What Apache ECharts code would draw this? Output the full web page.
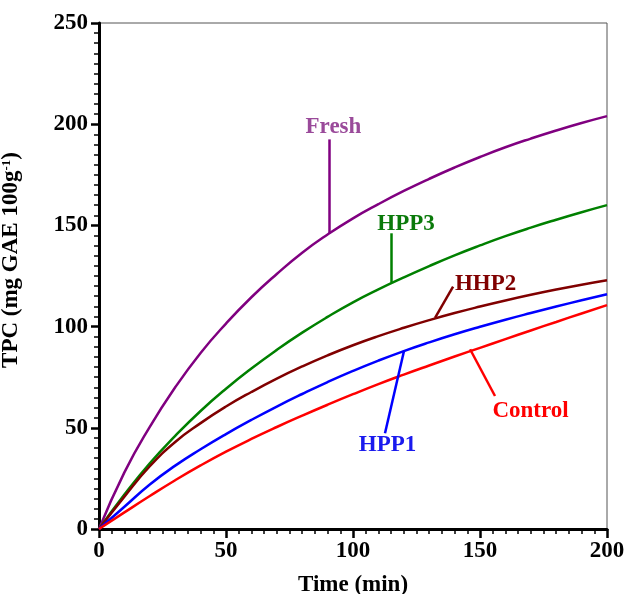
<!DOCTYPE html>
<html><head><meta charset="utf-8">
<script src="https://cdn.jsdelivr.net/npm/echarts@6/dist/echarts.min.js"></script>
<style>html,body{margin:0;padding:0;background:#fff}#c{width:627px;height:594px}</style>
</head><body><div id="c"></div>
<script>
// ---- data ----
const times   = [0,10,20,30,40,50,60,70,80,90,100,110,120,130,140,150,160,170,180,190,200];
const fresh   = [0,28,50.5,70,87,101.5,114.5,126,136.5,145.5,153.5,160.5,167,173,178.6,183.8,188.6,192.9,196.9,200.6,204];
const hpp3    = [0,17,32.5,46,58.3,69.3,79.3,88.5,97,104.8,112,118.4,124.3,129.9,135.2,140.1,144.7,148.9,152.8,156.5,160];
const hhp2    = [0,16,31,43,52.3,60.5,67.7,74.3,80.3,85.8,90.8,95.3,99.4,103.2,106.7,109.9,112.9,115.7,118.3,120.7,122.9];
const hpp1    = [0,11,22,31.3,39.4,46.9,53.9,60.5,66.7,72.6,78.1,83.2,87.9,92.2,96.2,99.9,103.4,106.7,109.9,113,116];
const control = [0,8.2,16.3,24.1,31.4,38.2,44.5,50.4,56,61.4,66.6,71.6,76.3,80.8,85.2,89.5,93.8,98.1,102.3,106.5,110.6];

const seriesNames  = ['Fresh','HPP3','HHP2','HPP1','Control'];
const seriesValues = [fresh, hpp3, hhp2, hpp1, control];
const xTicks = [0,50,100,150,200];
const yTicks = [0,50,100,150,200,250];

// annotation anchors in data units (time, TPC)
const labelAt    = [[92.3,198.8],[120.9,150.5],[152.2,121],[113.6,41.4],[169.9,58.3]];
const leaderFrom = [[90.6,146.1],[115,121.7],[132.3,104.3],[120.1,88.1],[146.1,88.8]];
const leaderTo   = [[90.6,192.5],[115,146.1],[139.4,119.7],[112.6,47.3],[155.9,65.7]];

// ---- styles ----
const lineColors  = ['#800080','#008000','#800000','#0000ff','#ff0000'];
const labelColors = ['#9a4a9a','#0a7a0a','#800000','#1a1aee','#ff0000'];
const FONT = '"Liberation Serif","Times New Roman",serif';

const series = seriesNames.map((name, i) => ({
  name: name,
  type: 'line',
  data: times.map((t, j) => [t, seriesValues[i][j]]),
  smooth: true,
  showSymbol: false,
  symbol: 'none',
  lineStyle: { color: lineColors[i], width: 2.5 },
  itemStyle: { color: lineColors[i] },
  z: 3,
  markLine: {
    silent: true,
    symbol: ['none','none'],
    animation: false,
    label: { show: false },
    lineStyle: { color: lineColors[i], width: 2.5, type: 'solid' },
    data: [[{ coord: leaderFrom[i] }, { coord: leaderTo[i] }]]
  },
  markPoint: {
    silent: true,
    animation: false,
    symbol: 'circle',
    symbolSize: 0,
    data: [{ coord: labelAt[i], value: name }],
    label: {
      show: true, position: 'inside', formatter: name,
      color: labelColors[i], fontFamily: FONT, fontWeight: 'bold', fontSize: 23
    }
  }
}));

const chart = echarts.init(document.getElementById('c'), null, { renderer: 'canvas' });
chart.setOption({
  animation: false,
  backgroundColor: '#fff',
  grid: {
    left: 99, right: 20, top: 23, bottom: 65,
    containLabel: false, outerBoundsMode: 'none',
    show: true, borderColor: '#555', borderWidth: 1, backgroundColor: 'transparent'
  },
  xAxis: {
    type: 'value', min: xTicks[0], max: xTicks[xTicks.length-1], interval: 50,
    name: 'Time (min)', nameLocation: 'middle', nameGap: 45,
    nameTextStyle: { color: '#000', fontFamily: FONT, fontWeight: 'bold', fontSize: 23 },
    axisLine: { show: true, onZero: false, lineStyle: { color: '#000', width: 3 } },
    axisTick: { show: true, inside: false, length: 9, lineStyle: { color: '#000', width: 2.5 } },
    minorTick: { show: true, splitNumber: 10, length: 5, lineStyle: { color: '#000', width: 1.5 } },
    axisLabel: { color: '#000', fontFamily: FONT, fontWeight: 'bold', fontSize: 23, margin: 11 },
    splitLine: { show: false }
  },
  yAxis: {
    type: 'value', min: yTicks[0], max: yTicks[yTicks.length-1], interval: 50,
    name: '{a|TPC (mg GAE 100g}{s|-1}{a|)}', nameLocation: 'middle', nameGap: 76, nameRotate: 90,
    nameTextStyle: {
      padding: [0, 0, 0, 32],
      rich: {
        a: { color: '#000', fontFamily: FONT, fontWeight: 'bold', fontSize: 23 },
        s: { color: '#000', fontFamily: FONT, fontWeight: 'bold', fontSize: 13, verticalAlign: 'top', padding: [0,0,10,0] }
      }
    },
    axisLine: { show: true, onZero: false, lineStyle: { color: '#000', width: 3 } },
    axisTick: { show: true, inside: false, length: 8, lineStyle: { color: '#000', width: 2.5 } },
    minorTick: { show: true, splitNumber: 10, length: 5, lineStyle: { color: '#000', width: 1.5 } },
    axisLabel: { color: '#000', fontFamily: FONT, fontWeight: 'bold', fontSize: 23, margin: 11 },
    splitLine: { show: false }
  },
  series: series
});
</script>
</body></html>
